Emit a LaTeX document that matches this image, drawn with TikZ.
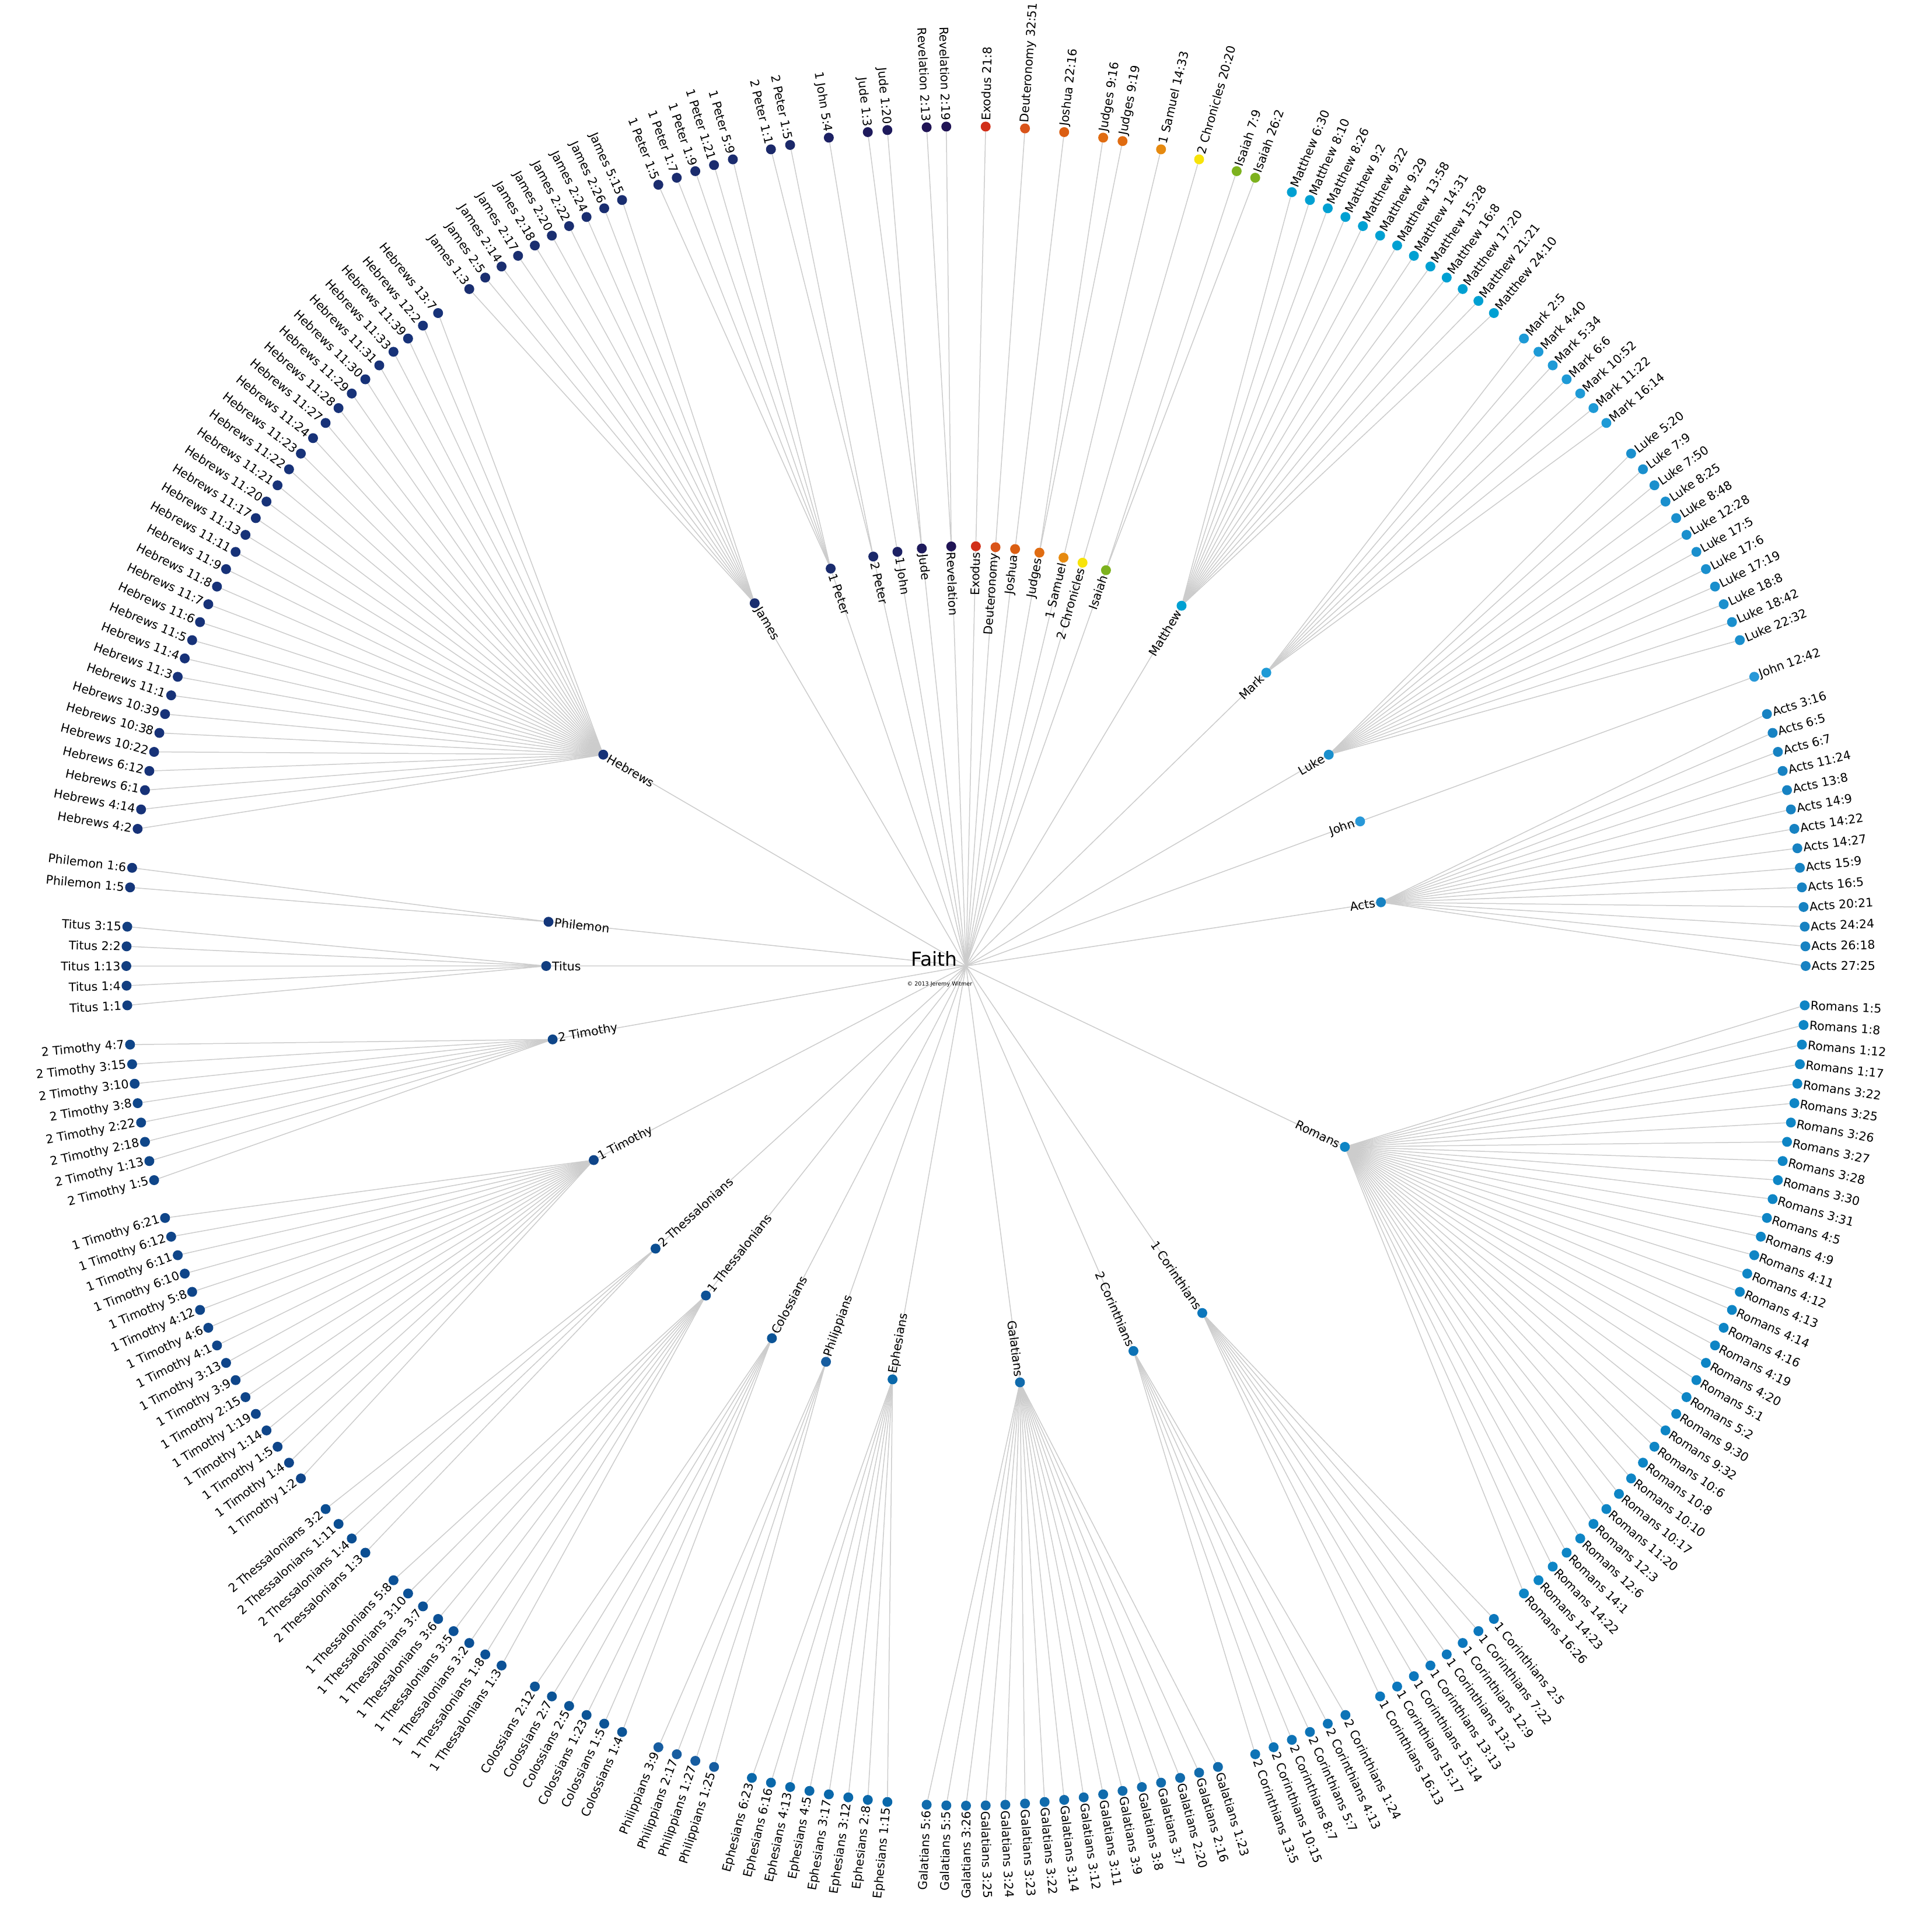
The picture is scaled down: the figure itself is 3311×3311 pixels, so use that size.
\documentclass[tikz,border=0pt]{standalone}
\usepackage{fontspec}
\setmainfont{DejaVu Sans}
\pgfdeclarelayer{edges}
\pgfsetlayers{edges,main}
\definecolor{linkgray}{HTML}{CCCCCC}
\definecolor{cEx}{HTML}{D12F19}
\definecolor{cDt}{HTML}{D9541A}
\definecolor{cJos}{HTML}{DB5E12}
\definecolor{cJdg}{HTML}{E06C12}
\definecolor{cISa}{HTML}{E68A10}
\definecolor{cIICh}{HTML}{F7E30A}
\definecolor{cIs}{HTML}{7DB21E}
\definecolor{cMt}{HTML}{00A0D2}
\definecolor{cMk}{HTML}{1E9AD6}
\definecolor{cLk}{HTML}{1A8FCD}
\definecolor{cJn}{HTML}{2898D8}
\definecolor{cAc}{HTML}{1782C2}
\definecolor{cRm}{HTML}{0E85C5}
\definecolor{cICo}{HTML}{0C77BC}
\definecolor{cIICo}{HTML}{0D73B6}
\definecolor{cGa}{HTML}{116BAC}
\definecolor{cEp}{HTML}{0A68AA}
\definecolor{cPh}{HTML}{175DA0}
\definecolor{cCo}{HTML}{0C5496}
\definecolor{cITh}{HTML}{0C5196}
\definecolor{cIITh}{HTML}{0B4E92}
\definecolor{cITi}{HTML}{0F4589}
\definecolor{cIITi}{HTML}{0F4689}
\definecolor{cTi}{HTML}{123E80}
\definecolor{cPm}{HTML}{14367A}
\definecolor{cHb}{HTML}{173278}
\definecolor{cJas}{HTML}{1A2E70}
\definecolor{cIPe}{HTML}{1B2C6E}
\definecolor{cIIPe}{HTML}{1B296A}
\definecolor{cIJn}{HTML}{1D2164}
\definecolor{cJd}{HTML}{1E1A5C}
\definecolor{cRv}{HTML}{201455}
\tikzset{
  dot/.style={circle, inner sep=0pt, minimum size=17pt, draw=none},
  lbl/.style={inner sep=0pt, text=black, font=\fontsize{20.5}{24}\selectfont},
  link/.style={draw=linkgray, line width=1.5pt},
}
\newcount\posH \posH=-1
\newcount\firstH
\newcommand\addbook[4]{%
  \global\advance\posH by 2\relax
  \global\firstH=\posH
  \foreach \v [count=\i] in {#4} {%
    \ifnum\i>1 \global\advance\posH by 1\relax\fi
    \pgfmathsetmacro\ang{90-\the\posH*1.34328358}%
    \node[dot, fill=#3] (#1-\i) at (\ang:1439) {};
    \ifnum\posH<134
      \node[lbl, anchor=west, rotate=\ang] (#1-\i-t) at (\ang:1449) {#2 \v};
    \else
      \node[lbl, anchor=east, rotate=\ang+180] (#1-\i-t) at (\ang:1449) {#2 \v};
    \fi
    \xdef\nlv{\i}%
  }%
  \pgfmathsetmacro\bang{90-(\the\firstH+\the\posH)*0.67164179}%
  \node[dot, fill=#3] (#1) at (\bang:719.5) {};
  \pgfmathtruncatemacro\ssum{\the\firstH+\the\posH}%
  \ifnum\ssum<268
    \node[lbl, anchor=east, rotate=\bang] (#1-t) at (\bang:709.5) {#2};
  \else
    \node[lbl, anchor=west, rotate=\bang+180] (#1-t) at (\bang:709.5) {#2};
  \fi
  \begin{pgfonlayer}{edges}
    \draw[link] (root) -- (#1);
    \foreach \i in {1,...,\nlv} {\draw[link] (#1) -- (#1-\i);}
  \end{pgfonlayer}
}
\begin{document}
\begin{tikzpicture}[x=1pt,y=1pt]
\useasboundingbox (-1655.5,-1655.5) rectangle (1655.5,1655.5);
\coordinate (root) at (0,0);
\node[inner sep=0pt, anchor=base east, font=\fontsize{33}{40}\selectfont] (faith) at (-15,0) {Faith};
\node[inner sep=0pt, anchor=base, font=\fontsize{9.6}{11}\selectfont] (copy) at (-45,-34) {© 2013 Jeremy Witmer};
\addbook{b1}{Exodus}{cEx}{21:8}
\addbook{b2}{Deuteronomy}{cDt}{32:51}
\addbook{b3}{Joshua}{cJos}{22:16}
\addbook{b4}{Judges}{cJdg}{9:16,9:19}
\addbook{b5}{1 Samuel}{cISa}{14:33}
\addbook{b6}{2 Chronicles}{cIICh}{20:20}
\addbook{b7}{Isaiah}{cIs}{7:9,26:2}
\addbook{b8}{Matthew}{cMt}{6:30,8:10,8:26,9:2,9:22,9:29,13:58,14:31,15:28,16:8,17:20,21:21,24:10}
\addbook{b9}{Mark}{cMk}{2:5,4:40,5:34,6:6,10:52,11:22,16:14}
\addbook{b10}{Luke}{cLk}{5:20,7:9,7:50,8:25,8:48,12:28,17:5,17:6,17:19,18:8,18:42,22:32}
\addbook{b11}{John}{cJn}{12:42}
\addbook{b12}{Acts}{cAc}{3:16,6:5,6:7,11:24,13:8,14:9,14:22,14:27,15:9,16:5,20:21,24:24,26:18,27:25}
\addbook{b13}{Romans}{cRm}{1:5,1:8,1:12,1:17,3:22,3:25,3:26,3:27,3:28,3:30,3:31,4:5,4:9,4:11,4:12,4:13,4:14,4:16,4:19,4:20,5:1,5:2,9:30,9:32,10:6,10:8,10:10,10:17,11:20,12:3,12:6,14:1,14:22,14:23,16:26}
\addbook{b14}{1 Corinthians}{cICo}{2:5,7:22,12:9,13:2,13:13,15:14,15:17,16:13}
\addbook{b15}{2 Corinthians}{cIICo}{1:24,4:13,5:7,8:7,10:15,13:5}
\addbook{b16}{Galatians}{cGa}{1:23,2:16,2:20,3:7,3:8,3:9,3:11,3:12,3:14,3:22,3:23,3:24,3:25,3:26,5:5,5:6}
\addbook{b17}{Ephesians}{cEp}{1:15,2:8,3:12,3:17,4:5,4:13,6:16,6:23}
\addbook{b18}{Philippians}{cPh}{1:25,1:27,2:17,3:9}
\addbook{b19}{Colossians}{cCo}{1:4,1:5,1:23,2:5,2:7,2:12}
\addbook{b20}{1 Thessalonians}{cITh}{1:3,1:8,3:2,3:5,3:6,3:7,3:10,5:8}
\addbook{b21}{2 Thessalonians}{cIITh}{1:3,1:4,1:11,3:2}
\addbook{b22}{1 Timothy}{cITi}{1:2,1:4,1:5,1:14,1:19,2:15,3:9,3:13,4:1,4:6,4:12,5:8,6:10,6:11,6:12,6:21}
\addbook{b23}{2 Timothy}{cIITi}{1:5,1:13,2:18,2:22,3:8,3:10,3:15,4:7}
\addbook{b24}{Titus}{cTi}{1:1,1:4,1:13,2:2,3:15}
\addbook{b25}{Philemon}{cPm}{1:5,1:6}
\addbook{b26}{Hebrews}{cHb}{4:2,4:14,6:1,6:12,10:22,10:38,10:39,11:1,11:3,11:4,11:5,11:6,11:7,11:8,11:9,11:11,11:13,11:17,11:20,11:21,11:22,11:23,11:24,11:27,11:28,11:29,11:30,11:31,11:33,11:39,12:2,13:7}
\addbook{b27}{James}{cJas}{1:3,2:5,2:14,2:17,2:18,2:20,2:22,2:24,2:26,5:15}
\addbook{b28}{1 Peter}{cIPe}{1:5,1:7,1:9,1:21,5:9}
\addbook{b29}{2 Peter}{cIIPe}{1:1,1:5}
\addbook{b30}{1 John}{cIJn}{5:4}
\addbook{b31}{Jude}{cJd}{1:3,1:20}
\addbook{b32}{Revelation}{cRv}{2:13,2:19}
\end{tikzpicture}
\end{document}
